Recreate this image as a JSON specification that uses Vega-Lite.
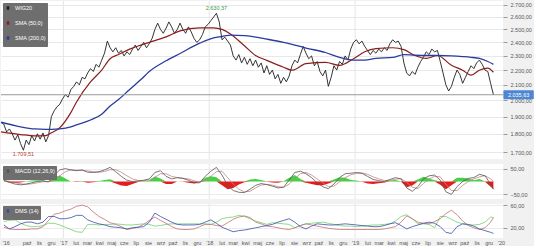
{
"$schema": "https://vega.github.io/schema/vega-lite/v6.json",
"padding": 0,
"background": "#f1f1f1",
"spacing": 5,
"bounds": "flush",
"config": {"view": {"stroke": null, "fill": "#ffffff"}, "font": "Liberation Sans"},
"resolve": {"scale": {"color": "independent", "y": "independent"}, "legend": {"color": "independent"}},
"datasets": {
"years": [{"d":"2017-01-01"},{"d":"2018-01-01"},{"d":"2019-01-01"}],
"last": [{"v": 2035.63, "t": "2.035,63"}],
"price": [
{"d":"2016-07-29","p":1865},{"d":"2016-08-05","p":1856},{"d":"2016-08-12","p":1811},{"d":"2016-08-19","p":1828},{"d":"2016-08-26","p":1800},
{"d":"2016-09-02","p":1765},{"d":"2016-09-09","p":1795},{"d":"2016-09-16","p":1745},{"d":"2016-09-23","p":1709.51},{"d":"2016-09-30","p":1765},
{"d":"2016-10-07","p":1740},{"d":"2016-10-14","p":1790},{"d":"2016-10-21","p":1760},{"d":"2016-10-28","p":1800},{"d":"2016-11-04","p":1770},
{"d":"2016-11-11","p":1805},{"d":"2016-11-18","p":1755},{"d":"2016-11-25","p":1790},{"d":"2016-12-02","p":1900},{"d":"2016-12-09","p":1935},
{"d":"2016-12-16","p":1960},{"d":"2016-12-23","p":1975},{"d":"2016-12-30","p":2010},
{"d":"2017-01-06","p":2036},{"d":"2017-01-13","p":2020},{"d":"2017-01-20","p":2070},{"d":"2017-01-27","p":2090},{"d":"2017-02-03","p":2120},
{"d":"2017-02-10","p":2100},{"d":"2017-02-17","p":2150},{"d":"2017-02-24","p":2140},{"d":"2017-03-03","p":2180},{"d":"2017-03-10","p":2210},
{"d":"2017-03-17","p":2190},{"d":"2017-03-24","p":2240},{"d":"2017-03-31","p":2220},{"d":"2017-04-07","p":2270},{"d":"2017-04-14","p":2320},
{"d":"2017-04-21","p":2410},{"d":"2017-04-28","p":2360},{"d":"2017-05-05","p":2330},{"d":"2017-05-12","p":2360},{"d":"2017-05-19","p":2320},
{"d":"2017-05-26","p":2340},{"d":"2017-06-02","p":2300},{"d":"2017-06-09","p":2330},{"d":"2017-06-16","p":2310},{"d":"2017-06-23","p":2350},
{"d":"2017-06-30","p":2380},{"d":"2017-07-07","p":2340},{"d":"2017-07-14","p":2370},{"d":"2017-07-21","p":2400},{"d":"2017-07-28","p":2360},
{"d":"2017-08-04","p":2390},{"d":"2017-08-11","p":2430},{"d":"2017-08-18","p":2500},{"d":"2017-08-25","p":2550},{"d":"2017-09-01","p":2500},
{"d":"2017-09-08","p":2470},{"d":"2017-09-15","p":2510},{"d":"2017-09-22","p":2560},{"d":"2017-09-29","p":2520},{"d":"2017-10-06","p":2470},
{"d":"2017-10-13","p":2500},{"d":"2017-10-20","p":2550},{"d":"2017-10-27","p":2500},{"d":"2017-11-03","p":2470},{"d":"2017-11-10","p":2520},
{"d":"2017-11-17","p":2480},{"d":"2017-11-24","p":2430},{"d":"2017-12-01","p":2400},{"d":"2017-12-08","p":2420},{"d":"2017-12-15","p":2460},
{"d":"2017-12-22","p":2520},{"d":"2017-12-29","p":2540},
{"d":"2018-01-05","p":2570},{"d":"2018-01-12","p":2600},{"d":"2018-01-19","p":2630.37},{"d":"2018-01-26","p":2560},{"d":"2018-02-02","p":2420},
{"d":"2018-02-09","p":2440},{"d":"2018-02-16","p":2410},{"d":"2018-02-23","p":2380},{"d":"2018-03-02","p":2300},{"d":"2018-03-09","p":2270},
{"d":"2018-03-16","p":2310},{"d":"2018-03-23","p":2250},{"d":"2018-03-30","p":2290},{"d":"2018-04-06","p":2240},{"d":"2018-04-13","p":2280},
{"d":"2018-04-20","p":2230},{"d":"2018-04-27","p":2270},{"d":"2018-05-04","p":2220},{"d":"2018-05-11","p":2250},{"d":"2018-05-18","p":2180},
{"d":"2018-05-25","p":2230},{"d":"2018-06-01","p":2170},{"d":"2018-06-08","p":2200},{"d":"2018-06-15","p":2140},{"d":"2018-06-22","p":2170},
{"d":"2018-06-29","p":2110},{"d":"2018-07-06","p":2150},{"d":"2018-07-13","p":2120},{"d":"2018-07-20","p":2160},{"d":"2018-07-27","p":2230},
{"d":"2018-08-03","p":2270},{"d":"2018-08-10","p":2250},{"d":"2018-08-17","p":2310},{"d":"2018-08-24","p":2370},{"d":"2018-08-31","p":2320},
{"d":"2018-09-07","p":2280},{"d":"2018-09-14","p":2300},{"d":"2018-09-21","p":2230},{"d":"2018-09-28","p":2260},{"d":"2018-10-05","p":2190},
{"d":"2018-10-12","p":2160},{"d":"2018-10-19","p":2200},{"d":"2018-10-26","p":2090},{"d":"2018-11-02","p":2150},{"d":"2018-11-09","p":2230},
{"d":"2018-11-16","p":2200},{"d":"2018-11-23","p":2260},{"d":"2018-11-30","p":2240},{"d":"2018-12-07","p":2300},{"d":"2018-12-14","p":2270},
{"d":"2018-12-21","p":2350},{"d":"2018-12-28","p":2400},
{"d":"2019-01-04","p":2420},{"d":"2019-01-11","p":2390},{"d":"2019-01-18","p":2410},{"d":"2019-01-25","p":2370},{"d":"2019-02-01","p":2340},
{"d":"2019-02-08","p":2310},{"d":"2019-02-15","p":2340},{"d":"2019-02-22","p":2320},{"d":"2019-03-01","p":2350},{"d":"2019-03-08","p":2330},
{"d":"2019-03-15","p":2360},{"d":"2019-03-22","p":2340},{"d":"2019-03-29","p":2390},{"d":"2019-04-05","p":2420},{"d":"2019-04-12","p":2400},
{"d":"2019-04-19","p":2410},{"d":"2019-04-26","p":2370},{"d":"2019-05-03","p":2250},{"d":"2019-05-10","p":2180},{"d":"2019-05-17","p":2160},
{"d":"2019-05-24","p":2190},{"d":"2019-05-31","p":2170},{"d":"2019-06-07","p":2220},{"d":"2019-06-14","p":2260},{"d":"2019-06-21","p":2290},
{"d":"2019-06-28","p":2330},{"d":"2019-07-05","p":2310},{"d":"2019-07-12","p":2350},{"d":"2019-07-19","p":2330},{"d":"2019-07-26","p":2340},
{"d":"2019-08-02","p":2260},{"d":"2019-08-09","p":2180},{"d":"2019-08-16","p":2100},{"d":"2019-08-23","p":2060},{"d":"2019-08-30","p":2090},
{"d":"2019-09-06","p":2150},{"d":"2019-09-13","p":2200},{"d":"2019-09-20","p":2170},{"d":"2019-09-27","p":2110},{"d":"2019-10-04","p":2150},
{"d":"2019-10-11","p":2190},{"d":"2019-10-18","p":2230},{"d":"2019-10-25","p":2210},{"d":"2019-11-01","p":2250},{"d":"2019-11-08","p":2270},
{"d":"2019-11-15","p":2240},{"d":"2019-11-22","p":2200},{"d":"2019-11-29","p":2190},{"d":"2019-12-06","p":2110},{"d":"2019-12-13","p":2035.63}
],
"sma": [
{"d":"2016-07-29","s50":1811,"s200":1867},{"d":"2016-09-16","s50":1796,"s200":1840},{"d":"2016-10-21","s50":1789,"s200":1828},
{"d":"2016-11-18","s50":1790,"s200":1826},{"d":"2016-12-02","s50":1806,"s200":1826},{"d":"2016-12-23","s50":1835,"s200":1828},
{"d":"2017-01-20","s50":1926,"s200":1840},{"d":"2017-02-03","s50":1990,"s200":1852},{"d":"2017-03-10","s50":2119,"s200":1880},
{"d":"2017-04-07","s50":2200,"s200":1915},{"d":"2017-04-28","s50":2280,"s200":1965},{"d":"2017-05-19","s50":2310,"s200":2005},
{"d":"2017-06-16","s50":2350,"s200":2070},{"d":"2017-07-14","s50":2380,"s200":2135},{"d":"2017-08-04","s50":2400,"s200":2190},
{"d":"2017-09-15","s50":2442,"s200":2265},{"d":"2017-10-20","s50":2489,"s200":2318},{"d":"2017-12-08","s50":2513,"s200":2394},
{"d":"2018-01-12","s50":2513,"s200":2435},{"d":"2018-02-02","s50":2500,"s200":2445},{"d":"2018-02-23","s50":2465,"s200":2455},
{"d":"2018-03-30","s50":2375,"s200":2452},{"d":"2018-04-27","s50":2303,"s200":2440},{"d":"2018-05-25","s50":2268,"s200":2425},
{"d":"2018-07-06","s50":2220,"s200":2400},{"d":"2018-07-27","s50":2199,"s200":2385},{"d":"2018-08-31","s50":2245,"s200":2358},
{"d":"2018-10-19","s50":2254,"s200":2325},{"d":"2018-11-23","s50":2233,"s200":2290},{"d":"2018-12-28","s50":2280,"s200":2270},
{"d":"2019-01-25","s50":2330,"s200":2270},{"d":"2019-02-22","s50":2354,"s200":2282},{"d":"2019-04-05","s50":2360,"s200":2289},
{"d":"2019-05-03","s50":2346,"s200":2310},{"d":"2019-05-31","s50":2303,"s200":2305},{"d":"2019-06-28","s50":2282,"s200":2303},
{"d":"2019-07-26","s50":2303,"s200":2303},{"d":"2019-08-30","s50":2233,"s200":2300},{"d":"2019-09-27","s50":2199,"s200":2295},
{"d":"2019-10-18","s50":2165,"s200":2290},{"d":"2019-11-08","s50":2199,"s200":2282},{"d":"2019-11-29","s50":2213,"s200":2260},
{"d":"2019-12-13","s50":2185,"s200":2240}
],
"ind": [
{"d":"2016-08-05","m":5,"s":3,"hp":2,"hn":0,"dp":25,"dm":31,"adx":21},
{"d":"2016-08-19","m":-3,"s":1,"hp":0,"hn":-4,"dp":18,"dm":33,"adx":18},
{"d":"2016-09-02","m":-10,"s":-4,"hp":0,"hn":-6,"dp":22,"dm":34,"adx":17},
{"d":"2016-09-16","m":-13,"s":-9,"hp":0,"hn":-4,"dp":27,"dm":28,"adx":17},
{"d":"2016-09-30","m":-10,"s":-11,"hp":1,"hn":0,"dp":30,"dm":24,"adx":17},
{"d":"2016-10-14","m":-5,"s":-9,"hp":4,"hn":0,"dp":30,"dm":22,"adx":18},
{"d":"2016-10-28","m":0,"s":-5,"hp":5,"hn":0,"dp":27,"dm":22,"adx":18},
{"d":"2016-11-11","m":3,"s":-1,"hp":4,"hn":0,"dp":30,"dm":24,"adx":22},
{"d":"2016-11-25","m":-2,"s":0,"hp":0,"hn":-2,"dp":40,"dm":28,"adx":33},
{"d":"2016-12-09","m":25,"s":8,"hp":17,"hn":0,"dp":40,"dm":28,"adx":44},
{"d":"2016-12-23","m":45,"s":22,"hp":23,"hn":0,"dp":36,"dm":25,"adx":46},
{"d":"2017-01-06","m":50,"s":38,"hp":12,"hn":0,"dp":36,"dm":21,"adx":50},
{"d":"2017-01-20","m":45,"s":45,"hp":0,"hn":0,"dp":38,"dm":17,"adx":53},
{"d":"2017-02-03","m":42,"s":44,"hp":0,"hn":-2,"dp":42,"dm":13,"adx":58},
{"d":"2017-02-17","m":45,"s":43,"hp":2,"hn":0,"dp":42,"dm":12,"adx":60},
{"d":"2017-03-03","m":36,"s":41,"hp":0,"hn":-5,"dp":34,"dm":26,"adx":57},
{"d":"2017-03-17","m":35,"s":38,"hp":0,"hn":-3,"dp":30,"dm":26,"adx":48},
{"d":"2017-03-31","m":38,"s":36,"hp":2,"hn":0,"dp":27,"dm":25,"adx":40},
{"d":"2017-04-14","m":45,"s":39,"hp":6,"hn":0,"dp":25,"dm":26,"adx":35},
{"d":"2017-04-28","m":55,"s":46,"hp":9,"hn":0,"dp":22,"dm":26,"adx":29},
{"d":"2017-05-12","m":38,"s":46,"hp":0,"hn":-8,"dp":21,"dm":27,"adx":26},
{"d":"2017-05-26","m":20,"s":36,"hp":0,"hn":-16,"dp":20,"dm":26,"adx":22},
{"d":"2017-06-09","m":5,"s":22,"hp":0,"hn":-17,"dp":18,"dm":25,"adx":17},
{"d":"2017-06-23","m":0,"s":10,"hp":0,"hn":-10,"dp":20,"dm":25,"adx":19},
{"d":"2017-07-07","m":2,"s":4,"hp":0,"hn":-2,"dp":21,"dm":26,"adx":21},
{"d":"2017-07-21","m":5,"s":3,"hp":2,"hn":0,"dp":22,"dm":27,"adx":26},
{"d":"2017-08-04","m":10,"s":6,"hp":4,"hn":0,"dp":30,"dm":26,"adx":33},
{"d":"2017-08-18","m":35,"s":16,"hp":19,"hn":0,"dp":46,"dm":23,"adx":39},
{"d":"2017-09-01","m":42,"s":30,"hp":12,"hn":0,"dp":40,"dm":24,"adx":33},
{"d":"2017-09-15","m":20,"s":30,"hp":0,"hn":-10,"dp":35,"dm":26,"adx":28},
{"d":"2017-09-29","m":10,"s":20,"hp":0,"hn":-10,"dp":30,"dm":27,"adx":22},
{"d":"2017-10-13","m":15,"s":15,"hp":0,"hn":0,"dp":26,"dm":27,"adx":18},
{"d":"2017-10-27","m":12,"s":13,"hp":0,"hn":-1,"dp":25,"dm":27,"adx":17},
{"d":"2017-11-10","m":5,"s":10,"hp":0,"hn":-5,"dp":25,"dm":27,"adx":17},
{"d":"2017-11-24","m":-5,"s":3,"hp":0,"hn":-8,"dp":25,"dm":27,"adx":18},
{"d":"2017-12-08","m":-5,"s":-3,"hp":0,"hn":-2,"dp":26,"dm":27,"adx":22},
{"d":"2017-12-22","m":20,"s":5,"hp":15,"hn":0,"dp":30,"dm":27,"adx":26},
{"d":"2018-01-05","m":40,"s":20,"hp":20,"hn":0,"dp":34,"dm":26,"adx":26},
{"d":"2018-01-19","m":55,"s":38,"hp":17,"hn":0,"dp":28,"dm":30,"adx":24},
{"d":"2018-02-02","m":25,"s":40,"hp":0,"hn":-15,"dp":21,"dm":36,"adx":23},
{"d":"2018-02-16","m":-15,"s":15,"hp":0,"hn":-30,"dp":17,"dm":38,"adx":29},
{"d":"2018-03-02","m":-35,"s":-10,"hp":0,"hn":-25,"dp":13,"dm":39,"adx":35},
{"d":"2018-03-16","m":-42,"s":-30,"hp":0,"hn":-12,"dp":15,"dm":42,"adx":39},
{"d":"2018-03-30","m":-43,"s":-40,"hp":0,"hn":-3,"dp":16,"dm":40,"adx":41},
{"d":"2018-04-13","m":-30,"s":-38,"hp":8,"hn":0,"dp":18,"dm":36,"adx":38},
{"d":"2018-04-27","m":-15,"s":-25,"hp":10,"hn":0,"dp":20,"dm":32,"adx":30},
{"d":"2018-05-11","m":-8,"s":-14,"hp":6,"hn":0,"dp":22,"dm":29,"adx":27},
{"d":"2018-05-25","m":-12,"s":-11,"hp":0,"hn":-1,"dp":24,"dm":26,"adx":23},
{"d":"2018-06-08","m":-18,"s":-14,"hp":0,"hn":-4,"dp":26,"dm":29,"adx":22},
{"d":"2018-06-22","m":-25,"s":-20,"hp":0,"hn":-5,"dp":30,"dm":28,"adx":20},
{"d":"2018-07-06","m":-22,"s":-23,"hp":1,"hn":0,"dp":33,"dm":27,"adx":18},
{"d":"2018-07-20","m":5,"s":-10,"hp":15,"hn":0,"dp":36,"dm":26,"adx":17},
{"d":"2018-08-03","m":35,"s":10,"hp":25,"hn":0,"dp":30,"dm":20,"adx":20},
{"d":"2018-08-17","m":40,"s":30,"hp":10,"hn":0,"dp":22,"dm":24,"adx":24},
{"d":"2018-08-31","m":30,"s":35,"hp":0,"hn":-5,"dp":18,"dm":27,"adx":27},
{"d":"2018-09-14","m":15,"s":25,"hp":0,"hn":-10,"dp":23,"dm":28,"adx":25},
{"d":"2018-09-28","m":-5,"s":10,"hp":0,"hn":-15,"dp":27,"dm":29,"adx":23},
{"d":"2018-10-12","m":-20,"s":-5,"hp":0,"hn":-15,"dp":26,"dm":30,"adx":21},
{"d":"2018-10-26","m":-28,"s":-20,"hp":0,"hn":-8,"dp":25,"dm":28,"adx":19},
{"d":"2018-11-09","m":-10,"s":-18,"hp":8,"hn":0,"dp":25,"dm":26,"adx":18},
{"d":"2018-11-23","m":15,"s":-2,"hp":17,"hn":0,"dp":26,"dm":24,"adx":17},
{"d":"2018-12-07","m":30,"s":15,"hp":15,"hn":0,"dp":27,"dm":23,"adx":17},
{"d":"2018-12-21","m":32,"s":26,"hp":6,"hn":0,"dp":26,"dm":23,"adx":17},
{"d":"2019-01-04","m":35,"s":31,"hp":4,"hn":0,"dp":25,"dm":22,"adx":17},
{"d":"2019-01-18","m":32,"s":33,"hp":0,"hn":-1,"dp":24,"dm":23,"adx":17},
{"d":"2019-02-01","m":20,"s":28,"hp":0,"hn":-8,"dp":23,"dm":24,"adx":17},
{"d":"2019-02-15","m":8,"s":18,"hp":0,"hn":-10,"dp":22,"dm":25,"adx":17},
{"d":"2019-03-01","m":3,"s":10,"hp":0,"hn":-7,"dp":22,"dm":25,"adx":17},
{"d":"2019-03-15","m":0,"s":4,"hp":0,"hn":-4,"dp":24,"dm":26,"adx":18},
{"d":"2019-03-29","m":8,"s":4,"hp":4,"hn":0,"dp":27,"dm":27,"adx":20},
{"d":"2019-04-12","m":15,"s":9,"hp":6,"hn":0,"dp":29,"dm":32,"adx":22},
{"d":"2019-04-26","m":10,"s":11,"hp":0,"hn":-1,"dp":24,"dm":40,"adx":30},
{"d":"2019-05-10","m":-25,"s":-3,"hp":0,"hn":-22,"dp":18,"dm":43,"adx":41},
{"d":"2019-05-24","m":-38,"s":-22,"hp":0,"hn":-16,"dp":22,"dm":36,"adx":36},
{"d":"2019-06-07","m":-20,"s":-28,"hp":8,"hn":0,"dp":25,"dm":27,"adx":30},
{"d":"2019-06-21","m":10,"s":-8,"hp":18,"hn":0,"dp":28,"dm":27,"adx":28},
{"d":"2019-07-05","m":22,"s":10,"hp":12,"hn":0,"dp":30,"dm":26,"adx":27},
{"d":"2019-07-19","m":25,"s":20,"hp":5,"hn":0,"dp":28,"dm":20,"adx":31},
{"d":"2019-08-02","m":5,"s":18,"hp":0,"hn":-13,"dp":22,"dm":40,"adx":36},
{"d":"2019-08-16","m":-40,"s":-10,"hp":0,"hn":-30,"dp":12,"dm":40,"adx":45},
{"d":"2019-08-30","m":-50,"s":-35,"hp":0,"hn":-15,"dp":10,"dm":35,"adx":51},
{"d":"2019-09-13","m":-20,"s":-35,"hp":15,"hn":0,"dp":22,"dm":30,"adx":43},
{"d":"2019-09-27","m":0,"s":-15,"hp":15,"hn":0,"dp":27,"dm":27,"adx":32},
{"d":"2019-10-11","m":12,"s":0,"hp":12,"hn":0,"dp":26,"dm":25,"adx":24},
{"d":"2019-10-25","m":15,"s":10,"hp":5,"hn":0,"dp":23,"dm":25,"adx":20},
{"d":"2019-11-08","m":28,"s":18,"hp":10,"hn":0,"dp":18,"dm":26,"adx":17},
{"d":"2019-11-22","m":22,"s":23,"hp":0,"hn":-1,"dp":15,"dm":30,"adx":20},
{"d":"2019-12-06","m":-10,"s":10,"hp":0,"hn":-20,"dp":12,"dm":39,"adx":30},
{"d":"2019-12-13","m":-30,"s":0,"hp":0,"hn":-30,"dp":10,"dm":38,"adx":38}
]
},
"vconcat": [
{
"width": 502, "height": 158,
"layer": [
{"data": {"name": "years"}, "mark": {"type": "rule", "color": "#e6e6e6", "strokeWidth": 1},
 "encoding": {"x": {"field": "d", "type": "temporal", "axis": null,
   "scale": {"type": "utc", "nice": false, "domain": [{"year":2016,"month":7,"date":29,"utc":true},{"year":2020,"month":1,"date":6,"utc":true}]}}}},
{"data": {"name": "price"}, "mark": {"type": "line", "strokeWidth": 0.9, "clip": true},
 "encoding": {
  "x": {"field": "d", "type": "temporal", "axis": null},
  "y": {"field": "p", "type": "quantitative", "scale": {"type": "log", "nice": false, "domain": [1663, 2734]},
    "axis": {"orient": "right", "title": null, "values": [1700,1800,1900,2000,2100,2200,2300,2400,2500,2600,2700],
      "labelExpr": "replace(replace(replace(format(datum.value, ',.2f'), ',', ' '), '.', ','), ' ', '.')",
      "domain": false, "tickSize": 4, "tickColor": "#999999", "labelPadding": 3, "labelFontSize": 5.5, "labelColor": "#555555",
      "grid": true, "gridColor": "#e8e8e8"}},
  "color": {"datum": "WIG20",
    "scale": {"domain": ["WIG20", "SMA (50,0)", "SMA (200,0)"], "range": ["#1e1e1e", "#8b1e1e", "#2a3b9e"]},
    "legend": {"title": null, "orient": "top-left", "offset": 2, "fillColor": "#6e6e6e", "padding": 2, "cornerRadius": 1,
      "labelColor": "#ffffff", "labelFontSize": 5.5, "symbolType": "M0,-1L0,1", "symbolStrokeWidth": 2.5, "symbolSize": 12,
      "rowPadding": 1, "labelOffset": 4}}
 }},
{"data": {"name": "sma"}, "mark": {"type": "line", "strokeWidth": 1.2, "interpolate": "monotone", "clip": true},
 "encoding": {"x": {"field": "d", "type": "temporal", "axis": null}, "y": {"field": "s50", "type": "quantitative"}, "color": {"datum": "SMA (50,0)"}}},
{"data": {"name": "sma"}, "mark": {"type": "line", "strokeWidth": 1.3, "interpolate": "monotone", "clip": true},
 "encoding": {"x": {"field": "d", "type": "temporal", "axis": null}, "y": {"field": "s200", "type": "quantitative"}, "color": {"datum": "SMA (200,0)"}}},
{"data": {"name": "last"}, "mark": {"type": "rule", "color": "#9a9a9a", "strokeWidth": 1},
 "encoding": {"y": {"field": "v", "type": "quantitative"}}},
{"data": {"name": "last"}, "mark": {"type": "rect", "color": "#4f86d4", "cornerRadius": 1},
 "encoding": {"x": {"datum": {"year":2020,"month":1,"date":7,"utc":true}, "type": "temporal", "axis": null},
   "x2": {"datum": {"year":2020,"month":3,"date":23,"utc":true}},
   "y": {"datum": 2064}, "y2": {"datum": 2007}}},
{"data": {"name": "last"}, "mark": {"type": "text", "color": "#ffffff", "fontSize": 5.5, "align": "center", "baseline": "middle"},
 "encoding": {"x": {"datum": {"year":2020,"month":2,"date":14,"utc":true}, "type": "temporal", "axis": null},
   "y": {"field": "v", "type": "quantitative"}, "text": {"field": "t"}}},
{"data": {"values": [{"d": "2018-01-19", "v": 2630.37, "t": "2.630,37"}]},
 "mark": {"type": "text", "color": "#3d9a3d", "fontSize": 5.5, "baseline": "bottom", "dy": -2},
 "encoding": {"x": {"field": "d", "type": "temporal", "axis": null}, "y": {"field": "v", "type": "quantitative"}, "text": {"field": "t"}}},
{"data": {"values": [{"d": "2016-09-23", "v": 1709.51, "t": "1.709,51"}]},
 "mark": {"type": "text", "color": "#b83a2e", "fontSize": 5.5, "baseline": "top", "dy": 2},
 "encoding": {"x": {"field": "d", "type": "temporal", "axis": null}, "y": {"field": "v", "type": "quantitative"}, "text": {"field": "t"}}}
]
},
{
"width": 502, "height": 35,
"encoding": {"x": {"field": "d", "type": "temporal", "axis": null,
   "scale": {"type": "utc", "nice": false, "domain": [{"year":2016,"month":7,"date":29,"utc":true},{"year":2020,"month":1,"date":6,"utc":true}]}}},
"layer": [
{"data": {"name": "years"}, "mark": {"type": "rule", "color": "#e6e6e6", "strokeWidth": 1}},
{"data": {"name": "ind"}, "mark": {"type": "area", "color": "#45d045"},
 "encoding": {
  "y": {"field": "hp", "type": "quantitative", "scale": {"domain": [-68, 68], "nice": false},
    "axis": {"orient": "right", "title": null, "values": [-50, 0, 50],
      "labelExpr": "replace(format(datum.value, '.2f'), '.', ',')",
      "domain": false, "tickSize": 4, "tickColor": "#999999", "labelPadding": 3, "labelFontSize": 5.5, "labelColor": "#555555",
      "grid": true, "gridColor": "#ececec"}}
 }},
{"data": {"name": "ind"}, "mark": {"type": "area", "color": "#e31c1c"},
 "encoding": {"y": {"field": "hn", "type": "quantitative"}}},
{"data": {"name": "ind"}, "mark": {"type": "line", "strokeWidth": 0.8, "color": "#c28585"},
 "encoding": {"y": {"field": "s", "type": "quantitative"}}},
{"data": {"name": "ind"}, "mark": {"type": "line", "strokeWidth": 0.8},
 "encoding": {"y": {"field": "m", "type": "quantitative"},
  "color": {"datum": "MACD (12,26,9)", "scale": {"range": ["#555555"]},
   "legend": {"title": null, "orient": "top-left", "offset": 2, "fillColor": "#6e6e6e", "padding": 2, "cornerRadius": 1,
      "labelColor": "#ffffff", "labelFontSize": 5.5, "symbolType": "M0,-1L0,1", "symbolStrokeWidth": 2.5, "symbolSize": 12, "labelOffset": 4,
      "encode": {"symbols": {"update": {"stroke": {"value": "#2a3b9e"}}}}}}}}
]
},
{
"width": 502, "height": 34,
"encoding": {"x": {"field": "d", "type": "temporal",
   "scale": {"type": "utc", "nice": false, "domain": [{"year":2016,"month":7,"date":29,"utc":true},{"year":2020,"month":1,"date":6,"utc":true}]},
   "axis": {"title": null, "grid": false, "domain": false, "ticks": false, "labelPadding": 2, "labelFontSize": 5.5, "labelColor": "#555555",
     "labelFlush": 1.5, "labelOverlap": false,
     "values": [{"year":2016,"month":8,"date":1,"utc":true},{"year":2016,"month":10,"date":1,"utc":true},{"year":2016,"month":11,"date":1,"utc":true},{"year":2016,"month":12,"date":1,"utc":true},
       {"year":2017,"month":1,"date":1,"utc":true},{"year":2017,"month":2,"date":1,"utc":true},{"year":2017,"month":3,"date":1,"utc":true},{"year":2017,"month":4,"date":1,"utc":true},{"year":2017,"month":5,"date":1,"utc":true},{"year":2017,"month":6,"date":1,"utc":true},{"year":2017,"month":7,"date":1,"utc":true},{"year":2017,"month":8,"date":1,"utc":true},{"year":2017,"month":9,"date":1,"utc":true},{"year":2017,"month":10,"date":1,"utc":true},{"year":2017,"month":11,"date":1,"utc":true},{"year":2017,"month":12,"date":1,"utc":true},
       {"year":2018,"month":1,"date":1,"utc":true},{"year":2018,"month":2,"date":1,"utc":true},{"year":2018,"month":3,"date":1,"utc":true},{"year":2018,"month":4,"date":1,"utc":true},{"year":2018,"month":5,"date":1,"utc":true},{"year":2018,"month":6,"date":1,"utc":true},{"year":2018,"month":7,"date":1,"utc":true},{"year":2018,"month":8,"date":1,"utc":true},{"year":2018,"month":9,"date":1,"utc":true},{"year":2018,"month":10,"date":1,"utc":true},{"year":2018,"month":11,"date":1,"utc":true},{"year":2018,"month":12,"date":1,"utc":true},
       {"year":2019,"month":1,"date":1,"utc":true},{"year":2019,"month":2,"date":1,"utc":true},{"year":2019,"month":3,"date":1,"utc":true},{"year":2019,"month":4,"date":1,"utc":true},{"year":2019,"month":5,"date":1,"utc":true},{"year":2019,"month":6,"date":1,"utc":true},{"year":2019,"month":7,"date":1,"utc":true},{"year":2019,"month":8,"date":1,"utc":true},{"year":2019,"month":9,"date":1,"utc":true},{"year":2019,"month":10,"date":1,"utc":true},{"year":2019,"month":11,"date":1,"utc":true},{"year":2019,"month":12,"date":1,"utc":true},
       {"year":2020,"month":1,"date":1,"utc":true}],
     "labelExpr": "(utcmonth(datum.value) == 0 || (utcyear(datum.value) == 2016 && utcmonth(datum.value) == 7)) ? \"'\" + utcFormat(datum.value, '%y') : substring('stylutmarkwimajczelipsiewrzpaźlisgru', 3 * utcmonth(datum.value), 3 * utcmonth(datum.value) + 3)"}}},
"layer": [
{"data": {"name": "years"}, "mark": {"type": "rule", "color": "#e6e6e6", "strokeWidth": 1}},
{"data": {"name": "ind"}, "mark": {"type": "line", "strokeWidth": 0.8, "color": "#6fcf6f"},
 "encoding": {
  "y": {"field": "dm", "type": "quantitative", "scale": {"domain": [2, 62], "nice": false},
    "axis": {"orient": "right", "title": null, "values": [20, 40, 60],
      "labelExpr": "replace(format(datum.value, '.2f'), '.', ',')",
      "domain": false, "tickSize": 4, "tickColor": "#999999", "labelPadding": 3, "labelFontSize": 5.5, "labelColor": "#555555",
      "grid": true, "gridColor": "#ececec"}}}},
{"data": {"name": "ind"}, "mark": {"type": "line", "strokeWidth": 0.8, "color": "#c46f6f"},
 "encoding": {"y": {"field": "adx", "type": "quantitative"}}},
{"data": {"name": "ind"}, "mark": {"type": "line", "strokeWidth": 0.8},
 "encoding": {"y": {"field": "dp", "type": "quantitative"},
  "color": {"datum": "DMS (14)", "scale": {"range": ["#3b4ba8"]},
   "legend": {"title": null, "orient": "top-left", "offset": 2, "fillColor": "#6e6e6e", "padding": 2, "cornerRadius": 1,
      "labelColor": "#ffffff", "labelFontSize": 5.5, "symbolType": "M0,-1L0,1", "symbolStrokeWidth": 2.5, "symbolSize": 12, "labelOffset": 4,
      "encode": {"symbols": {"update": {"stroke": {"value": "#2a3b9e"}}}}}}}}
]
}
]
}
